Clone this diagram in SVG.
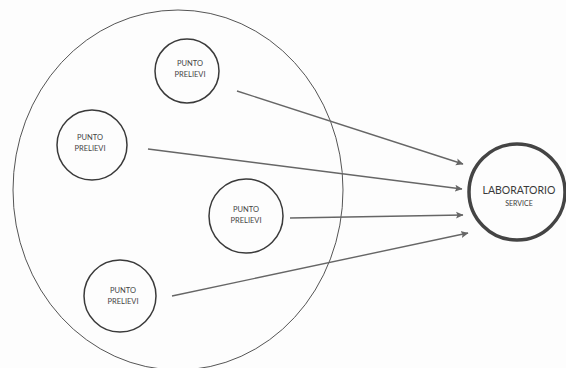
<svg xmlns="http://www.w3.org/2000/svg" width="566" height="368" viewBox="0 0 566 368">
<style>
.bg{fill:#fdfdfd}
.pt circle{fill:none;stroke:#3a3a3a;stroke-width:1.5}
.pt text{font-family:"Lato","Liberation Sans",sans-serif;font-size:7.5px;fill:#444;text-anchor:middle}
.lab circle{fill:none;stroke:#444;stroke-width:3.5}
.lab text{font-family:"Lato","Liberation Sans",sans-serif;fill:#3a3a3a;text-anchor:middle}
.area{fill:none;stroke:#555;stroke-width:1}
.conn line{stroke:#666;stroke-width:1.4;marker-end:url(#ah)}
</style>
<defs>
<marker id="ah" markerWidth="8" markerHeight="8" refX="7" refY="4" orient="auto" markerUnits="userSpaceOnUse">
<path d="M0,0.5 L7.5,4 L0,7.5 L1.5,4 Z" fill="#666"/>
</marker>
</defs>
<rect class="bg" x="0" y="0" width="566" height="368"/>
<g id="area"><ellipse class="area" cx="178" cy="190" rx="165" ry="180"/></g>
<g id="p1" class="pt"><circle cx="187" cy="71" r="32"/><text x="190" y="66">PUNTO</text><text x="190" y="77">PRELIEVI</text></g>
<g id="p2" class="pt"><circle cx="92" cy="145" r="35"/><text x="90" y="140">PUNTO</text><text x="90" y="151">PRELIEVI</text></g>
<g id="p3" class="pt"><circle cx="246" cy="216" r="37"/><text x="246" y="212">PUNTO</text><text x="246" y="223">PRELIEVI</text></g>
<g id="p4" class="pt"><circle cx="120" cy="296" r="36"/><text x="123" y="293">PUNTO</text><text x="123" y="304">PRELIEVI</text></g>
<g id="lab" class="lab"><circle cx="517" cy="192" r="48"/><text x="519" y="194" font-size="10.5">LABORATORIO</text><text x="519" y="206" font-size="7">SERVICE</text></g>
<g id="connectors" class="conn">
<line x1="237" y1="91" x2="463" y2="164"/>
<line x1="148" y1="149" x2="462" y2="189"/>
<line x1="290" y1="218" x2="463" y2="215"/>
<line x1="172" y1="296" x2="468" y2="233"/>
</g>
</svg>
